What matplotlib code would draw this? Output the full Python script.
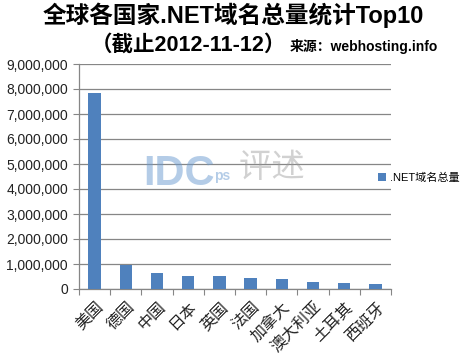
import matplotlib
matplotlib.use("Agg")
import matplotlib.pyplot as plt
from matplotlib.ticker import FuncFormatter, FixedLocator
import numpy as np

plt.rcParams['font.family'] = ['Liberation Sans', 'Noto Sans CJK SC', 'DejaVu Sans']

categories = ['美国', '德国', '中国', '日本', '英国', '法国', '加拿大', '澳大利亚', '土耳其', '西班牙']
values = [7840000, 960000, 650000, 520000, 520000, 440000, 400000, 280000, 250000, 210000]
series_name = '.NET域名总量'
title = '全球各国家.NET域名总量统计Top10'
subtitle = '（截止2012-11-12）'
source = '来源：webhosting.info'

W, H = 466, 355
fig = plt.figure(figsize=(W / 100, H / 100), dpi=100)
ax = fig.add_axes([79 / W, 1 - 289 / H, (391 - 79) / W, (289 - 64) / H])

x = np.arange(len(categories))
bars = ax.bar(x, values, width=0.4, color='#4F81BD', label=series_name, zorder=3)

ax.set_xlim(-0.5, len(categories) - 0.5)
ax.set_ylim(0, 9000000)
ax.set_yticks(np.arange(0, 9000001, 1000000))
ax.yaxis.set_major_formatter(FuncFormatter(lambda v, p: f'{int(v):,}'))
ax.grid(axis='y', color='#868686', linewidth=0.9, zorder=0)

ax.xaxis.set_major_locator(FixedLocator(np.arange(-0.5, len(categories), 1.0)))
ax.xaxis.set_major_formatter(FuncFormatter(lambda v, p: ''))
ax.xaxis.set_minor_locator(FixedLocator(x))
ax.set_xticklabels(categories, minor=True, rotation=45, ha='right', va='top',
                   rotation_mode='anchor', fontsize=11.5, color='#222222',
                   family=['Noto Sans CJK SC', 'DejaVu Sans'])
ax.tick_params(axis='x', which='minor', length=0, pad=7)
ax.tick_params(axis='x', which='major', length=4, color='#868686', direction='out')
ax.tick_params(axis='y', length=4, color='#868686', labelsize=10, labelcolor='#222222', pad=4)

for s in ['top', 'right']:
    ax.spines[s].set_visible(False)
for s in ['left', 'bottom']:
    ax.spines[s].set_color('#868686')
    ax.spines[s].set_linewidth(0.9)

# watermarks
fig.text(143 / W, 1 - 185 / H, 'IDC', fontsize=30, fontweight='bold', color='#6a9bd1',
         alpha=0.5, ha='left', va='baseline')
fig.text(214 / W, 1 - 180 / H, 'ps', fontsize=10, fontweight='bold', color='#6a9bd1',
         alpha=0.5, ha='left', va='baseline')
fig.text(272 / W, 1 - 168 / H, '评述', fontsize=24, color='#999999', alpha=0.45,
         ha='center', va='center', family=['Noto Sans CJK SC'])

fig.text(W / 2 / W, 1 - 15 / H, title, fontsize=17, fontweight='bold', ha='center', va='center',
         family=['Liberation Sans', 'Noto Sans CJK SC'])
fig.text(91 / W, 1 - 45 / H, subtitle, fontsize=15.5, fontweight='bold', ha='left', va='center',
         family=['Liberation Sans', 'Noto Sans CJK SC'])
fig.text(290 / W, 1 - 46 / H, source, fontsize=10, fontweight='bold', ha='left', va='center',
         family=['Liberation Sans', 'Noto Sans CJK SC'])

leg = fig.legend(handles=[bars], labels=[series_name], loc='center left',
                 bbox_to_anchor=(370 / W, 1 - 178 / H), frameon=False,
                 handlelength=0.7, handleheight=0.7, handletextpad=0.4, borderpad=0.2,
                 prop={'family': ['Liberation Sans', 'Noto Sans CJK SC'], 'size': 8})

fig.savefig('out.png', dpi=100)
